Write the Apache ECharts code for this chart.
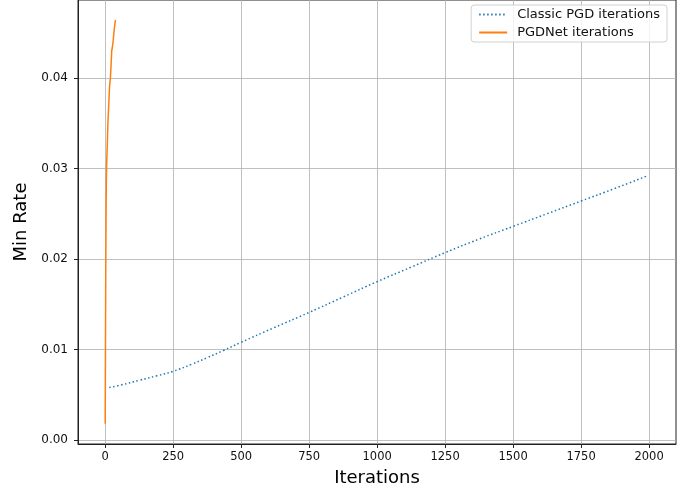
<!DOCTYPE html>
<html>
<head>
<meta charset="utf-8">
<script src="https://cdn.jsdelivr.net/npm/echarts@6/dist/echarts.min.js"></script>
<style>
  html, body { margin: 0; padding: 0; background: #fff; }
  #chart { width: 694px; height: 493px; }
</style>
</head>
<body>
<div id="chart"></div>
<script>
// 经典 PGD 迭代（点线）
var classicIter = [15, 60, 125, 190, 250, 320, 375, 435, 500, 620, 750, 875, 1000, 1125, 1250, 1375, 1500, 1625, 1750, 1875, 1995];
var classicRate = [0.0058, 0.0061, 0.0066, 0.0071, 0.0076, 0.0084, 0.0091, 0.0099, 0.0108, 0.0124, 0.0141, 0.0158, 0.0175, 0.0191, 0.0207, 0.0222, 0.0236, 0.0250, 0.0264, 0.0278, 0.0292];

// PGDNet 迭代（实线）
var netIter = [0, 1, 2, 3, 4, 5, 6, 8, 10, 13, 16, 19, 21, 23, 24, 26, 29, 32, 35, 38];
var netRate = [0.0018, 0.0100, 0.0180, 0.0240, 0.0280, 0.0300, 0.0310, 0.0330, 0.0350, 0.0370, 0.0390, 0.0400, 0.0410, 0.0423, 0.0430, 0.0433, 0.0440, 0.0450, 0.0458, 0.0464];

// 刻度
var xTicks = [0, 250, 500, 750, 1000, 1250, 1500, 1750, 2000];
var yTicks = [0, 0.01, 0.02, 0.03, 0.04];

function pairs(xs, ys) {
  var r = [];
  for (var i = 0; i < xs.length; i++) r.push([xs[i], ys[i]]);
  return r;
}

var myChart = echarts.init(document.getElementById('chart'));
var font = 'DejaVu Sans';

var chartOpt = {
  animation: false,
  backgroundColor: '#fff',
  textStyle: { fontFamily: font },
  grid: { left: 78, right: 18, top: 0, bottom: 49, show: true, borderColor: '#222', borderWidth: 1, backgroundColor: 'transparent' },
  legend: {
    orient: 'vertical', right: 27, top: 5,
    itemWidth: 28, itemHeight: 14, itemGap: 5,
    padding: [3, 7, 3, 7],
    backgroundColor: 'rgba(255,255,255,0.8)',
    borderColor: '#d0d0d0', borderWidth: 1, borderRadius: 3,
    itemStyle: { opacity: 0 },
    textStyle: { fontFamily: font, fontSize: 13, color: '#111', padding: [0, 0, 0, 5] },
    data: ['Classic PGD iterations', 'PGDNet iterations']
  },
  xAxis: {
    type: 'value', min: -100, max: 2099,
    name: 'Iterations', nameLocation: 'middle', nameGap: 25,
    nameTextStyle: { fontFamily: font, fontSize: 18, color: '#000' },
    axisLine: { show: true, onZero: false, lineStyle: { color: '#222', width: 1 } },
    axisTick: { show: true, length: 4, customValues: xTicks, lineStyle: { color: '#222' } },
    axisLabel: { customValues: xTicks, color: '#111', fontSize: 11.5, margin: 7, fontFamily: font,
      formatter: function (v) { return String(v); } },
    splitLine: { show: true, lineStyle: { color: '#b0b0b0', width: 0.8 } }
  },
  yAxis: {
    type: 'value', min: -0.00043, max: 0.0486,
    name: 'Min Rate', nameLocation: 'middle', nameGap: 45,
    nameTextStyle: { fontFamily: font, fontSize: 18, color: '#000' },
    axisLine: { show: true, onZero: false, lineStyle: { color: '#222', width: 1 } },
    axisTick: { show: true, length: 4, customValues: yTicks, lineStyle: { color: '#222' } },
    axisLabel: { customValues: yTicks, color: '#111', fontSize: 12, margin: 10, fontFamily: font,
      formatter: function (v) { return v.toFixed(2); } },
    splitLine: { show: true, lineStyle: { color: '#b0b0b0', width: 0.8 } }
  },
  series: [
    {
      name: 'Classic PGD iterations', type: 'line', symbol: 'none', smooth: true,
      data: pairs(classicIter, classicRate),
      color: '#1f77b4',
      lineStyle: { color: '#1f77b4', width: 1.5, type: [1.5, 2.5] }
    },
    {
      name: 'PGDNet iterations', type: 'line', symbol: 'none',
      data: pairs(netIter, netRate),
      color: '#ff7f0e',
      lineStyle: { color: '#ff7f0e', width: 1.5 }
    }
  ]
};
myChart.setOption(chartOpt);
</script>
</body>
</html>
